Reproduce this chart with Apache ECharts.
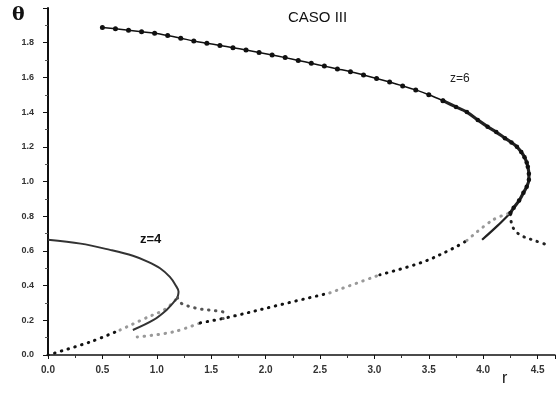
<!DOCTYPE html>
<html><head><meta charset="utf-8">
<script src="https://cdn.jsdelivr.net/npm/echarts@6/dist/echarts.min.js"></script>
<style>html,body{margin:0;padding:0;background:#fff}#c{width:558px;height:393px}</style>
</head><body><div id="c"></div>
<script>
// ---- data (r, theta) ----
const xTicks = [0, 0.5, 1, 1.5, 2, 2.5, 3, 3.5, 4, 4.5];
const yTicks = [0, 0.2, 0.4, 0.6, 0.8, 1.0, 1.2, 1.4, 1.6, 1.8];

// z=6 upper branch, dotted markers
const z6Upper = [[0.50,1.887],[0.62,1.880],[0.74,1.872],[0.86,1.863],[0.98,1.854],[1.10,1.841],[1.22,1.826],[1.34,1.810],[1.46,1.797],[1.58,1.784],[1.70,1.771],[1.82,1.758],[1.94,1.744],[2.06,1.729],[2.18,1.714],[2.30,1.698],[2.42,1.682],[2.54,1.665],[2.66,1.649],[2.78,1.633],[2.90,1.614],[3.02,1.594],[3.14,1.573],[3.26,1.551],[3.38,1.528],[3.50,1.500],[3.63,1.466]];
// z=6 thick nose part
const z6Nose = [[3.63,1.466],[3.75,1.430],[3.85,1.400],[3.95,1.355],[4.04,1.316],[4.12,1.285],[4.20,1.250],[4.26,1.225],[4.31,1.200],[4.35,1.170],[4.38,1.140],[4.40,1.110],[4.41,1.085],[4.42,1.045],[4.42,1.010],[4.40,0.970],[4.37,0.935],[4.33,0.890],[4.28,0.848],[4.25,0.819]];
const z6LowerSolid = [[4.25,0.819],[4.13,0.744],[3.99,0.664]];
const z6Right = [[4.25,0.810],[4.27,0.739],[4.34,0.692],[4.48,0.658],[4.59,0.635]];
// lower dotted curve joining the z=6 fold (black and faint parts)
const lowB1 = [[0.82,0.104],[1.15,0.133],[1.40,0.185]];
const lowB2 = [[1.40,0.185],[1.67,0.219],[2.13,0.289],[2.59,0.358]];
const lowB3 = [[2.59,0.358],[3.05,0.462]];
const lowB4 = [[3.05,0.462],[3.45,0.537],[3.73,0.617],[3.85,0.660]];
const lowB5 = [[3.85,0.660],[4.09,0.779],[4.25,0.819]];
// lower dotted curve from the origin to the z=4 fold
const lowA1 = [[0,0],[0.386,0.075],[0.662,0.144]];
const lowA2 = [[0.662,0.144],[0.92,0.219],[1.08,0.265],[1.19,0.330]];
// z=4 curves
const z4Upper = [[0,0.664],[0.30,0.642],[0.57,0.606],[0.78,0.572],[0.92,0.537],[1.03,0.500],[1.12,0.450],[1.17,0.405],[1.20,0.365],[1.19,0.330]];
const z4LowerSolid = [[1.19,0.330],[1.15,0.300],[1.09,0.260],[0.97,0.202],[0.78,0.144]];
const z4Right = [[1.19,0.330],[1.22,0.300],[1.30,0.280],[1.40,0.265],[1.55,0.254],[1.61,0.245],[1.61,0.210]];

const dotted = (color) => ({color, width: 3, type: [0.5, 6.5], cap: 'round'});
function ser(data, lineStyle, extra) {
  return Object.assign({type: 'line', data, showSymbol: false, symbol: 'none', smooth: 0.35, lineStyle, silent: true, z: 3}, extra || {});
}
const chart = echarts.init(document.getElementById('c'));
const lab = {fontFamily: 'Liberation Sans', fontWeight: 'bold', color: '#333'};
chart.setOption({
  animation: false,
  backgroundColor: '#fff',
  grid: {left: 48, right: 3, top: 8, bottom: 38},
  xAxis: {type: 'value', min: 0, max: 4.66, interval: 0.5,
    axisLine: {lineStyle: {color: '#111', width: 1.5}},
    axisTick: {length: 4, lineStyle: {color: '#111'}},
    minorTick: {show: true, splitNumber: 2, length: 3, lineStyle: {color: '#333'}},
    splitLine: {show: false},
    axisLabel: Object.assign({margin: 10, fontSize: 10, formatter: v => xTicks.some(t => Math.abs(t - v) < 1e-6) ? v.toFixed(1) : ''}, lab)
  },
  yAxis: {type: 'value', min: 0, max: 2.0, interval: 0.2,
    axisLine: {lineStyle: {color: '#111', width: 2}},
    axisTick: {length: 5, lineStyle: {color: '#111'}},
    minorTick: {show: true, splitNumber: 2, length: 3, lineStyle: {color: '#555'}},
    splitLine: {show: false},
    axisLabel: Object.assign({margin: 14, fontSize: 9, formatter: v => yTicks.some(t => Math.abs(t - v) < 1e-6) ? v.toFixed(1) : ''}, lab)
  },
  graphic: [
    {type: 'text', left: 12, top: 6, style: {text: 'θ', font: 'bold 19px "DejaVu Serif"', fill: '#111'}},
    {type: 'text', left: 502, top: 371, style: {text: 'r', font: '16px "Liberation Sans"', fill: '#111'}},
    {type: 'text', left: 288, top: 10, style: {text: 'CASO III', font: '15px "Liberation Sans"', fill: '#111'}},
    {type: 'text', left: 450, top: 73, style: {text: 'z=6', font: '12px "Liberation Sans"', fill: '#222'}},
    {type: 'text', left: 140, top: 233, style: {text: 'z=4', font: 'bold 13px "Liberation Sans"', fill: '#111'}}
  ],
  series: [
    ser(z6Upper, {color: '#111', width: 1.5}, {showSymbol: true, symbol: 'circle', symbolSize: 5, itemStyle: {color: '#111'}}),
    ser(z6Nose, {color: '#222', width: 3.2}, {showSymbol: true, symbol: 'circle', symbolSize: 4.5, itemStyle: {color: '#111'}}),
    ser(z6LowerSolid, {color: '#222', width: 2.2}),
    ser(z6Right, dotted('#222')),
    ser(lowB1, dotted('#999')),
    ser(lowB2, dotted('#111')),
    ser(lowB3, dotted('#999')),
    ser(lowB4, dotted('#111')),
    ser(lowB5, dotted('#999')),
    ser(lowA1, dotted('#111')),
    ser(lowA2, dotted('#999')),
    ser(z4Upper, {color: '#333', width: 2}),
    ser(z4LowerSolid, {color: '#333', width: 2}),
    ser(z4Right, dotted('#555'))
  ]
});
</script></body></html>
